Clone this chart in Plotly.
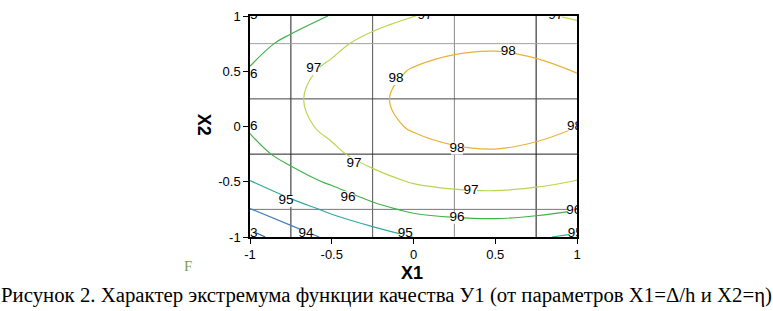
import plotly.graph_objects as go

# Grid of the factors (coded units)
X1 = [-1, -0.75, -0.5, -0.25, 0, 0.25, 0.5, 0.75, 1]
X2 = [-1, -0.75, -0.5, -0.25, 0, 0.25, 0.5, 0.75, 1]

# Quality function Y1 (rows follow X2, columns follow X1)
Y1 = [
    [92.67, 93.55, 94.20, 94.55, 95.01, 95.17, 95.23, 95.10, 94.84],
    [93.97, 94.62, 95.17, 95.75, 96.16, 96.34, 96.39, 96.27, 96.03],
    [94.97, 95.60, 96.13, 96.68, 97.06, 97.24, 97.29, 97.18, 96.96],
    [95.68, 96.30, 96.82, 97.34, 97.70, 97.88, 97.93, 97.83, 97.62],
    [96.11, 96.71, 97.22, 97.74, 98.08, 98.26, 98.31, 98.21, 98.01],
    [96.24, 96.84, 97.35, 97.86, 98.20, 98.38, 98.43, 98.33, 98.13],
    [96.08, 96.69, 97.20, 97.72, 98.06, 98.24, 98.29, 98.19, 97.99],
    [95.64, 96.25, 96.77, 97.30, 97.66, 97.84, 97.89, 97.78, 97.57],
    [94.90, 95.53, 96.05, 96.62, 96.99, 97.18, 97.23, 97.12, 96.89],
]

LEVEL_START, LEVEL_END, LEVEL_STEP = 93, 98, 1

# Contour labels as printed in the picture: level value and where it sits
LABEL_LEVELS = [95, 96, 96, 97, 97, 97, 98, 98, 98, 98, 97, 97, 96, 96, 96, 95, 95, 94, 93, 95]
LABEL_X = [-1.0, -1.0, -1.0, -0.61, 0.07, 0.87, 0.58, -0.107, 0.985, 0.266,
           -0.364, 0.352, -0.40, 0.266, 0.98, -0.78, -0.05, -0.657, -1.0, 0.99]
LABEL_Y = [1.0, 0.465, 0.0, 0.52, 1.0, 1.0, 0.68, 0.43, 0.0, -0.20,
           -0.333, -0.58, -0.64, -0.825, -0.76, -0.675, -0.965, -0.965, -0.965, -0.965]

TICKS = [-1, -0.5, 0, 0.5, 1]
TICK_TEXT = ["-1", "-0.5", "0", "0.5", "1"]
GRID_X = [-0.75, -0.25, 0.25, 0.75]
GRID_X_COLORS = ["#222222", "#555555", "#8a8a8a", "#111111"]
GRID_Y = [0.75, 0.25, -0.25, -0.75]
GRID_Y_COLORS = ["#a0a0a0", "#444444", "#222222", "#777777"]

CAPTION = "Рисунок 2. Характер экстремума функции качества У1 (от параметров X1=Δ/h и X2=η)"

fig = go.Figure()

fig.add_trace(go.Contour(
    x=X1, y=X2, z=Y1,
    zmin=93, zmax=98,
    colorscale=[[0.0, "#2f5f9f"], [0.2, "#4a7fb5"], [0.4, "#35a89c"],
                [0.6, "#3fb24a"], [0.8, "#b8d64e"], [1.0, "#e8b234"]],
    showscale=False,
    contours=dict(start=LEVEL_START, end=LEVEL_END, size=LEVEL_STEP,
                  coloring="lines", showlabels=False),
    line=dict(width=1.2, smoothing=1.1),
    hoverinfo="skip",
))

fig.add_trace(go.Scatter(
    x=LABEL_X, y=LABEL_Y, text=[str(v) for v in LABEL_LEVELS],
    mode="markers+text", textposition="middle center",
    marker=dict(symbol="square", size=12, color="white", line=dict(width=0)),
    textfont=dict(family="Liberation Sans, Arial", size=13.5, color="black"),
    cliponaxis=True, hoverinfo="skip", showlegend=False,
))

shapes = []
for gx, c in zip(GRID_X, GRID_X_COLORS):
    shapes.append(dict(type="line", xref="x", yref="paper", x0=gx, x1=gx, y0=0, y1=1,
                       line=dict(color=c, width=1), layer="below"))
for gy, c in zip(GRID_Y, GRID_Y_COLORS):
    shapes.append(dict(type="line", xref="paper", yref="y", x0=0, x1=1, y0=gy, y1=gy,
                       line=dict(color=c, width=1), layer="below"))

axis_common = dict(
    range=[-1, 1], tickvals=TICKS, ticktext=TICK_TEXT,
    ticks="outside", ticklen=5, tickcolor="black", tickwidth=1,
    showgrid=False, zeroline=False,
    showline=True, linecolor="black", linewidth=1.5, mirror=True,
    tickfont=dict(family="Liberation Sans, Arial", size=13, color="black"),
)

fig.update_layout(
    width=773, height=311,
    margin=dict(l=250, r=196, t=9, b=74),
    paper_bgcolor="white", plot_bgcolor="white",
    xaxis=dict(**axis_common),
    yaxis=dict(**axis_common),
    shapes=shapes,
    showlegend=False,
    annotations=[
        dict(text="<b>X1</b>", xref="paper", yref="paper", x=0.495, y=-0.165,
             showarrow=False, xanchor="center", yanchor="middle",
             font=dict(family="Liberation Sans, Arial", size=18, color="black")),
        dict(text="<b>X2</b>", xref="paper", yref="paper", x=-0.138, y=0.509,
             showarrow=False, xanchor="center", yanchor="middle", textangle=90,
             font=dict(family="Liberation Sans, Arial", size=18, color="black")),
        dict(text="F", xref="paper", yref="paper", x=-0.19, y=-0.132,
             showarrow=False, xanchor="center", yanchor="middle",
             font=dict(family="Liberation Serif, Times New Roman", size=15, color="#7ea04a")),
        dict(text=CAPTION, xref="paper", yref="paper", x=0.417, y=-0.262,
             showarrow=False, xanchor="center", yanchor="middle",
             font=dict(family="Liberation Serif, Times New Roman", size=20.8, color="black")),
    ],
)

fig.write_html("out.html", config={"displayModeBar": False},
               post_script="document.body.style.margin='0';")
